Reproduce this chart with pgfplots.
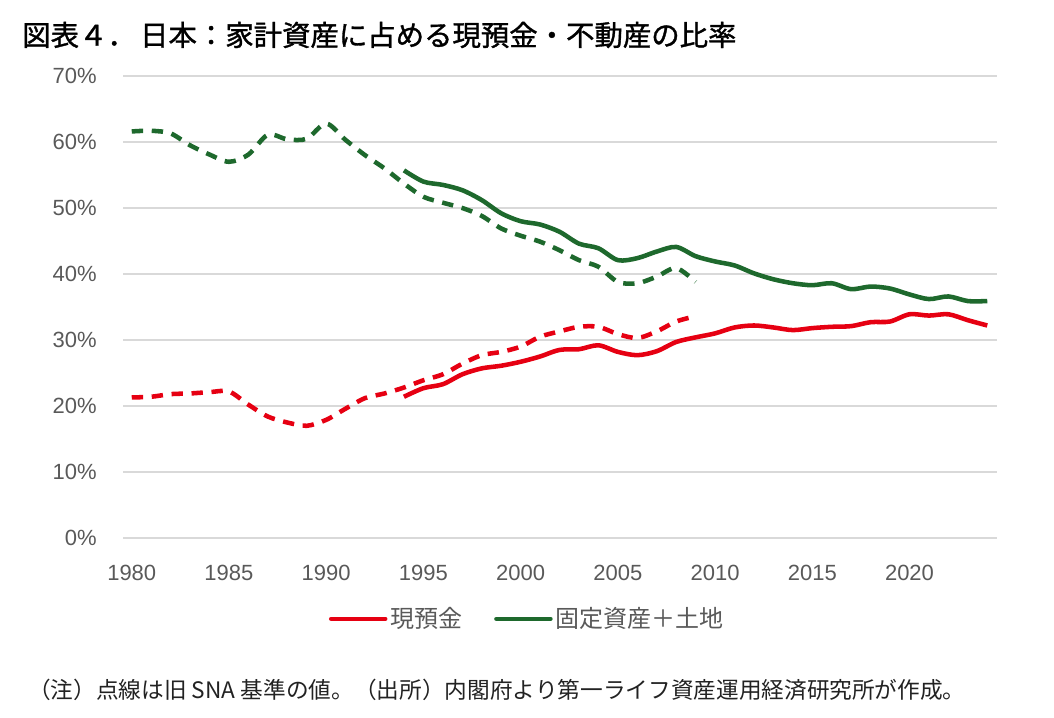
\documentclass[border=0pt]{standalone}
\usepackage{fontspec}
\setmainfont{Liberation Sans}
\newfontfamily\cjk{Noto Sans CJK JP}
\newfontfamily\cjktitle[FakeBold=1.2]{Noto Sans CJK JP}
\usepackage{pgfplots}
\pgfplotsset{compat=1.18}
\definecolor{cred}{RGB}{230,0,18}
\definecolor{cgreen}{RGB}{30,105,45}
\definecolor{cgrid}{RGB}{217,217,217}
\definecolor{ctxt}{RGB}{89,89,89}
\begin{document}
\begin{tikzpicture}
\path[use as bounding box] (0,0) rectangle (790.5pt,538.5pt);
\node[anchor=west, inner sep=0pt] at (16.5pt,512.25pt) {\cjktitle\fontsize{21.3}{25}\selectfont 図表４．\hspace{0.15em}日本：家計資産に占める現預金・不動産の比率};
\begin{axis}[
  at={(92.25pt,135pt)}, anchor=south west,
  scale only axis, width=655.5pt, height=346.5pt,
  xmin=1979.55, xmax=2024.5, ymin=0, ymax=70,
  xtick={1980,1985,...,2020}, ytick={0,10,...,70},
  /pgf/number format/1000 sep={},
  /pgf/number format/assume math mode=true,
  yticklabel={\pgfmathprintnumber{\tick}\%},
  axis line style={draw=none}, major tick length=0pt,
  ymajorgrids, major grid style={cgrid, line width=1.1pt},
  tick label style={font=\fontsize{16.5}{19}\selectfont, text=ctxt},
  xticklabel style={anchor=north, inner sep=0pt, yshift=-20.25pt},
  yticklabel style={anchor=east, inner sep=0pt, xshift=-19.5pt},
  legend columns=2,
  legend style={draw=none, fill=none, at={(0.4628,-0.175)}, anchor=center,
    font=\cjk\fontsize{18}{21}\selectfont, text=ctxt,
    /tikz/every even column/.append style={column sep=22pt}},
  legend image code/.code={\draw[#1, solid, line cap=round] (0pt,0pt) -- (40.5pt,0pt);},
  every axis plot/.append style={line join=round},
]
\addplot[cred, line width=3.4pt, smooth] coordinates {
(1994,21.4)(1995,22.7)(1996,23.3)(1997,24.8)(1998,25.7)(1999,26.1)(2000,26.7)
(2001,27.5)(2002,28.5)(2003,28.6)(2004,29.2)(2005,28.2)(2006,27.7)(2007,28.3)
(2008,29.7)(2009,30.4)(2010,31.0)(2011,31.9)(2012,32.2)(2013,31.9)(2014,31.5)
(2015,31.8)(2016,32.0)(2017,32.1)(2018,32.7)(2019,32.8)(2020,33.9)(2021,33.7)
(2022,33.9)(2023,33.0)(2024,32.2)};
\addlegendentry{現預金}
\addplot[cgreen, line width=3.4pt, smooth] coordinates {
(1994,55.7)(1995,54.0)(1996,53.5)(1997,52.7)(1998,51.2)(1999,49.2)(2000,48.0)
(2001,47.5)(2002,46.4)(2003,44.6)(2004,43.9)(2005,42.1)(2006,42.4)(2007,43.4)
(2008,44.1)(2009,42.7)(2010,41.9)(2011,41.3)(2012,40.1)(2013,39.2)(2014,38.6)
(2015,38.3)(2016,38.6)(2017,37.7)(2018,38.1)(2019,37.8)(2020,36.9)(2021,36.2)
(2022,36.6)(2023,35.9)(2024,35.9)};
\addlegendentry{固定資産＋土地}
\addplot[cred, line width=3.4pt, smooth, dash pattern=on 8.5pt off 6.5pt, forget plot] coordinates {
(1980,21.3)(1981,21.4)(1982,21.8)(1983,21.9)(1984,22.1)(1985,22.2)(1986,20.2)
(1987,18.4)(1988,17.5)(1989,17.0)(1990,17.9)(1991,19.6)(1992,21.2)(1993,21.9)
(1994,22.8)(1995,23.9)(1996,24.8)(1997,26.4)(1998,27.7)(1999,28.2)(2000,29.0)
(2001,30.5)(2002,31.3)(2003,32.0)(2004,32.0)(2005,30.9)(2006,30.3)(2007,31.3)
(2008,32.8)(2009,33.6)};
\addplot[cgreen, line width=3.4pt, smooth, dash pattern=on 8.5pt off 6.5pt, forget plot] coordinates {
(1980,61.6)(1981,61.7)(1982,61.3)(1983,59.5)(1984,58.1)(1985,57.0)(1986,58.1)
(1987,61.1)(1988,60.4)(1989,60.5)(1990,62.8)(1991,60.3)(1992,58.0)(1993,56.0)
(1994,53.7)(1995,51.7)(1996,50.8)(1997,50.0)(1998,48.8)(1999,46.9)(2000,45.8)
(2001,44.9)(2002,43.6)(2003,42.1)(2004,41.1)(2005,38.8)(2006,38.6)(2007,39.6)
(2008,40.9)(2009,38.8)};
\end{axis}
\node[anchor=west, inner sep=0pt] at (21pt,21pt) {\cjk\fontsize{17}{20}\selectfont\color[RGB]{34,34,34}（注）点線は旧 SNA 基準の値。（出所）内閣府より第一ライフ資産運用経済研究所が作成。};
\end{tikzpicture}
\end{document}
